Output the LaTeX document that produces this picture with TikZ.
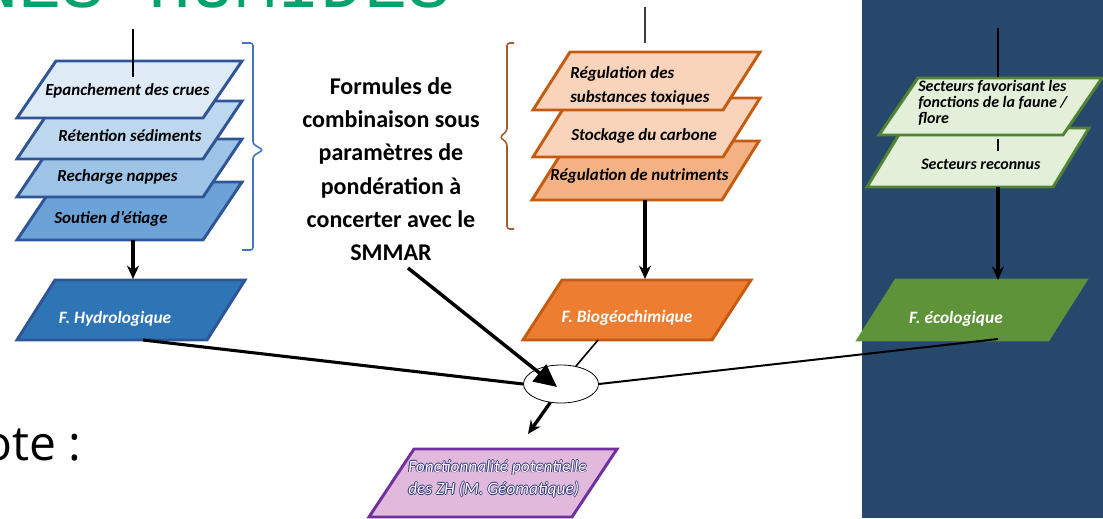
\documentclass[tikz,border=0pt]{standalone}
\usepackage{fontspec}
\setmainfont{Carlito}
\newfontfamily\titlefont{Liberation Mono}
\newfontfamily\notefont{Open Sans}
\usetikzlibrary{shapes.geometric,arrows.meta,calc}

\definecolor{panel}{RGB}{38,72,108}
\definecolor{bA}{RGB}{222,235,247}
\definecolor{bB}{RGB}{189,215,238}
\definecolor{bC}{RGB}{157,195,230}
\definecolor{bD}{RGB}{107,163,216}
\definecolor{bEdge}{RGB}{47,85,151}
\definecolor{bOut}{RGB}{46,117,182}
\definecolor{oA}{RGB}{249,211,186}
\definecolor{oC}{RGB}{244,177,131}
\definecolor{oEdge}{RGB}{197,90,17}
\definecolor{oOut}{RGB}{237,125,49}
\definecolor{gA}{RGB}{226,240,217}
\definecolor{gEdge}{RGB}{84,130,53}
\definecolor{gOut}{RGB}{94,147,57}
\definecolor{pA}{RGB}{225,185,220}
\definecolor{pEdge}{RGB}{112,48,160}
\definecolor{braceB}{RGB}{68,114,196}
\definecolor{braceO}{RGB}{166,94,46}
\definecolor{titleG}{RGB}{0,163,108}
\definecolor{haloC}{RGB}{40,50,120}

\newcommand\parapath[7]{% name, style, blx, bly, w, h, slant
  \draw[#2] (#3,#4) coordinate (#1-bl) -- ++(#5,0) coordinate (#1-br)
    -- ++(#7,-#6) coordinate (#1-tr) -- ++(-#5,0) coordinate (#1-tl) -- cycle;}
\newcommand\halo[1]{\leavevmode
  \rlap{\color{haloC}\raisebox{0.6pt}{#1}}%
  \rlap{\color{haloC}\raisebox{-0.6pt}{#1}}%
  \rlap{\color{haloC}\hspace{0.6pt}#1}%
  \rlap{\color{haloC}\hspace{-0.6pt}#1}%
  {\color{white}#1}}

\tikzset{
  plate/.style={line width=2.2pt, line join=miter},
  ptext/.style={font=\fontsize{12.7}{16}\selectfont\bfseries\itshape, inner sep=0pt, anchor=base west},
  gtext/.style={font=\fontsize{12}{12}\selectfont\bfseries\itshape, inner sep=0pt, anchor=base west},
  otext/.style={font=\fontsize{13}{16}\selectfont\bfseries\itshape, text=white, inner sep=0pt, anchor=base},
  vline/.style={line width=1.2pt},
  conn/.style={line width=2.5pt, -{Stealth[length=10pt,width=9pt]}},
  link/.style={line width=2.3pt},
  brace/.style={line width=1.2pt, rounded corners=2pt},
}

\begin{document}
\begin{tikzpicture}[x=0.75pt,y=-0.75pt]
\useasboundingbox (0,0) rectangle (1103,518);
\clip (0,0) rectangle (1103,518);

% right dark panel
\fill[panel] (862,0) rectangle (1103,518);

% title fragment
\node[font=\titlefont\fontsize{54}{54}\selectfont, text=titleG, inner sep=0pt, anchor=base west] (title) at (-25,7) {NES HUMIDES};

% note fragment
\node[font=\notefont\fontsize{36}{36}\selectfont, inner sep=0pt, anchor=base west] (note) at (-17,460) {ote :};

% ---------- blue column ----------
\parapath{b4}{plate, draw=bEdge, fill=bD}{17}{240}{186}{58}{39}
\parapath{b3}{plate, draw=bEdge, fill=bC}{17}{197}{186}{58}{39}
\parapath{b2}{plate, draw=bEdge, fill=bB}{17}{159}{186}{58}{39}
\parapath{b1}{plate, draw=bEdge, fill=bA}{17}{118}{186}{57}{39}
\node[ptext] (t-b1) at (45,95) {Epanchement des crues};
\node[ptext] (t-b2) at (58,141) {Rétention sédiments};
\node[ptext] (t-b3) at (57,181) {Recharge nappes};
\node[ptext] (t-b4) at (54,223) {Soutien d’étiage};
\coordinate (b-top) at (133,29);
\coordinate (b-in) at (133,77);
\draw[vline] (b-top) -- (b-in);
\coordinate (b4-bc) at (133,240);
\parapath{hyd}{plate, draw=bEdge, fill=bOut}{17}{340}{190}{60}{38}
\coordinate (hyd-tc) at (133,279);
\node[otext] (t-hyd) at (115,323) {F. Hydrologique};
\draw[conn] (b4-bc) -- (hyd-tc);
% blue brace
\draw[brace, draw=braceB] (242,43) -- (253,43) -- (253,144) -- (263,150) -- (253,156) -- (253,250) -- (242,250);

% ---------- middle text ----------
\node[font=\fontsize{18}{25}\selectfont\bfseries, align=center, inner sep=0pt, anchor=north] (formula) at (391,77)
  {Formules de\\combinaison sous\\paramètres de\\pondération à\\concerter avec le\\SMMAR};

% ---------- orange column ----------
\parapath{o3}{plate, draw=oEdge, fill=oC}{532}{200}{190}{59}{37}
\parapath{o2}{plate, draw=oEdge, fill=oA}{533}{157}{190}{59}{37}
\parapath{o1}{plate, draw=oEdge, fill=oA}{533}{110}{190}{58}{37}
\node[ptext] (t-o1a) at (570,78) {Régulation des};
\node[ptext] (t-o1b) at (570,102) {substances toxiques};
\node[ptext] (t-o2) at (571,140) {Stockage du carbone};
\node[ptext] (t-o3) at (550,180) {Régulation de nutriments};
\coordinate (o-top) at (645,7);
\coordinate (o-in) at (645,43);
\draw[vline, draw=black!75] (o-top) -- (o-in);
\coordinate (o3-bc) at (645,200);
\parapath{bio}{plate, draw=oEdge, fill=oOut}{523}{340}{189}{60}{39}
\coordinate (bio-tc) at (645,279);
\node[otext] (t-bio) at (627,322) {F. Biogéochimique};
\draw[conn] (o3-bc) -- (bio-tc);
% orange brace
\draw[brace, draw=braceO] (514,43) -- (507,43) -- (507,131) -- (500,137) -- (507,143) -- (507,229) -- (514,229);

% ---------- green column ----------
\parapath{g2}{plate, draw=gEdge, fill=gA}{867}{187}{186}{59}{36}
\parapath{g1}{plate, draw=gEdge, fill=gA}{879}{135}{184}{57}{39}
\node[gtext] (t-g1a) at (918,91) {Secteurs favorisant les};
\node[gtext] (t-g1b) at (918,107) {fonctions de la faune /};
\node[gtext] (t-g1c) at (918,123) {flore};
\node[gtext] (t-g2) at (921,169) {Secteurs reconnus};
\coordinate (g-top) at (998,28);
\coordinate (g-in) at (998,77);
\draw[vline] (g-top) -- (g-in);
\coordinate (g-mid1) at (998,139);
\coordinate (g-mid2) at (998,151);
\draw[vline] (g-mid1) -- (g-mid2);
\coordinate (g2-bc) at (998,187);
\parapath{eco}{plate, draw=gOut, fill=gOut}{858}{340}{190}{60}{38}
\coordinate (eco-tc) at (998,280);
\node[otext] (t-eco) at (956,323) {F. écologique};
\draw[conn] (g2-bc) -- (eco-tc);

% ---------- combination ----------
\parapath{zh}{plate, draw=pEdge, fill=pA}{369}{517}{203}{68}{45}
\node[font=\fontsize{13}{17}\selectfont\itshape, align=left, inner sep=0pt, anchor=north west] (t-zh) at (408,459)
  {\halo{Fonctionnalité potentielle}\\\halo{des ZH (M. Géomatique)}};

\node[ellipse, draw, fill=white, line width=0.6pt, minimum width=56.25pt, minimum height=28.5pt, inner sep=0pt] (ell) at (561,384) {};
\coordinate (hyd-out) at (143,340);
\coordinate (bio-out) at (598,340);
\coordinate (eco-out) at (998,339);
\draw[link] (hyd-out) -- (ell.west);
\draw[line width=1.2pt] (bio-out) -- (ell.50);
\draw[line width=1.5pt] (eco-out) -- (ell.east);
\coordinate (smmar-out) at (408,268);
\coordinate (ell-tip) at (557,387);
\draw[line width=2.6pt, -{Triangle[length=17pt,width=16pt]}] (smmar-out) -- (ell-tip);
\coordinate (zh-in) at (528,434);
\draw[conn] (ell.240) -- (zh-in);
\end{tikzpicture}
\end{document}
